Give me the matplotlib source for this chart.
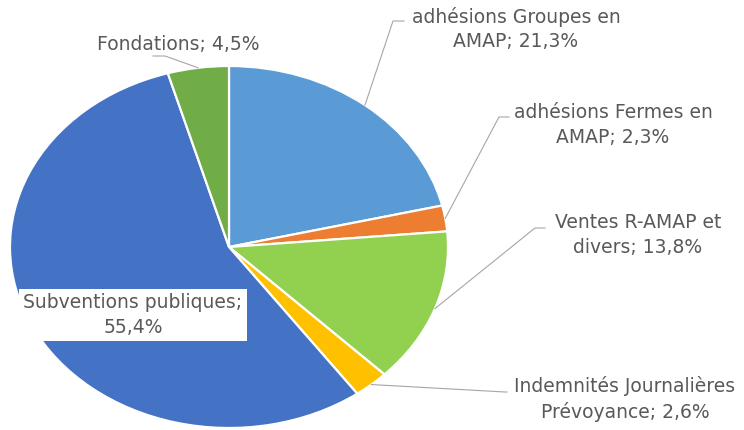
import matplotlib.pyplot as plt
import numpy as np

# data (percent of budget)
labels = ['adhésions Groupes en\nAMAP', 'adhésions Fermes en\nAMAP', 'Ventes R-AMAP et\ndivers',
          'Indemnités Journalières\nPrévoyance', 'Subventions publiques;\n', 'Fondations']
shares = [21.3, 2.3, 13.8, 2.6, 55.4, 4.5]
colors = ['#5B9BD5', '#ED7D31', '#92D050', '#FFC000', '#4472C4', '#70AD47']

W, H = 744, 430
plt.rcParams['font.family'] = ['DejaVu Sans']

fig = plt.figure(figsize=(W / 100, H / 100), dpi=100)

# pie axes: unit radius stretched to an ellipse (rx=219 px, ry=181 px), centre at (229, 247) px
cx, cy, rx, ry = 229, 247, 219, 181
ax = fig.add_axes([0, 0, 1, 1])
wedges, _ = ax.pie(shares, colors=colors, startangle=90, counterclock=False, radius=1,
                   wedgeprops=dict(edgecolor='white', linewidth=1.6))
ax.set_aspect('auto')
ax.set_xlim(-cx / rx, (W - cx) / rx)
ax.set_ylim(-(H - cy) / ry, cy / ry)
ax.axis('off')

# overlay in image pixels (origin top-left) for labels and leader lines
ov = fig.add_axes([0, 0, 1, 1], facecolor='none')
ov.set_xlim(0, W)
ov.set_ylim(H, 0)
ov.axis('off')


def edge_point(w):
    mid = np.deg2rad((w.theta1 + w.theta2) / 2)
    px, py = ax.transData.transform((np.cos(mid), np.sin(mid)))
    return px, H - py


def fmt(v):
    return f'{v:.1f}'.replace('.', ',') + '%'


txt_color = '#595959'
line_color = '#A6A6A6'
fs = 13.5

# text centre, elbow point, end of horizontal stub
layout = {
    0: ((516, 29), (393, 21), (404, 21)),
    1: ((613, 125), (499, 117), (509, 117)),
    2: ((638, 235), (535, 228), (545, 228)),
    3: ((625, 399), (505, 392), (507, 392)),
    5: ((178, 44), (165, 56), (153, 56)),
}

for i, w in enumerate(wedges):
    if i == 4:
        ov.text(133, 315, 'Subventions publiques;\n' + fmt(shares[i]), ha='center', va='center',
                fontsize=fs, color=txt_color, linespacing=1.38,
                bbox=dict(boxstyle='square,pad=0.22', fc='white', ec='none'))
        continue
    (tx, ty), elbow, stub = layout[i]
    ex, ey = edge_point(w)
    ov.plot([ex, elbow[0], stub[0]], [ey, elbow[1], stub[1]], color=line_color, lw=0.8)
    if i == 5:
        s = 'Fondations; ' + fmt(shares[i])
    else:
        s = labels[i] + '; ' + fmt(shares[i])
    ov.text(tx, ty, s, ha='center', va='center', fontsize=fs, color=txt_color, linespacing=1.38)

fig.savefig('out.png', dpi=100)
